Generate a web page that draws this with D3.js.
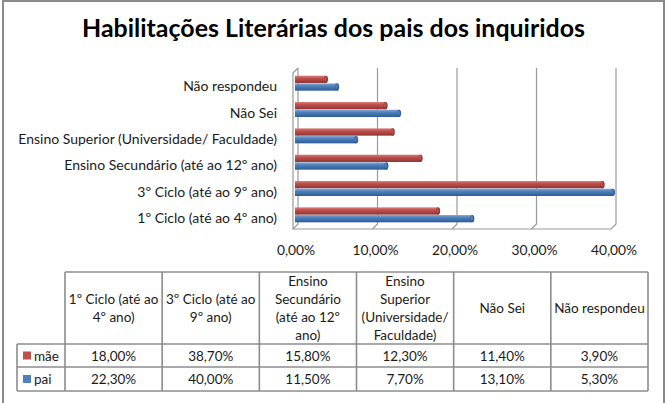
<!DOCTYPE html>
<html><head><meta charset="utf-8">
<script src="https://cdn.jsdelivr.net/npm/d3@7"></script>
<style>
html,body{margin:0;padding:0;background:#fff;}
svg{display:block;font-family:Lato,"Open Sans",sans-serif;}
</style></head>
<body>
<svg id="c" width="671" height="403"></svg>
<script>
const title = "Habilitações Literárias dos pais dos inquiridos";
const categories = ["1º Ciclo (até ao 4º ano)","3º Ciclo (até ao 9º ano)","Ensino Secundário (até ao 12º ano)","Ensino Superior (Universidade/ Faculdade)","Não Sei","Não respondeu"];
const tableHeaders = [["1º Ciclo (até ao","4º ano)"],["3º Ciclo (até ao","9º ano)"],["Ensino","Secundário","(até ao 12º","ano)"],["Ensino","Superior","(Universidade/","Faculdade)"],["Não Sei"],["Não respondeu"]];
const seriesNames = ["mãe","pai"];
const maeValues = [18.0,38.7,15.8,12.3,11.4,3.9];
const paiValues = [22.3,40.0,11.5,7.7,13.1,5.3];
const xTicks = [0,10,20,30,40];
const colors = {"mãe":"#C0504D","pai":"#4F81BD"};
const dark = {"mãe":"#8E3532","pai":"#2E5C93"};
const light = {"mãe":"#D9807D","pai":"#86A9D6"};

const series = [{name:"mãe",values:maeValues},{name:"pai",values:paiValues}];
const fmt = v => v.toFixed(2).replace(".",",")+"%";

const svg = d3.select("#c");
const defs = svg.append("defs");
seriesNames.forEach((n,i)=>{
  const g = defs.append("linearGradient").attr("id","g"+i).attr("x1",0).attr("x2",0).attr("y1",0).attr("y2",1);
  g.append("stop").attr("offset","0%").attr("stop-color",light[n]);
  g.append("stop").attr("offset","35%").attr("stop-color",colors[n]);
  g.append("stop").attr("offset","100%").attr("stop-color",dark[n]);
});

// outer frame
svg.append("rect").attr("x",3).attr("y",1).attr("width",661).attr("height",410)
  .attr("fill","none").attr("stroke","#8a8a8a").attr("stroke-width",2);

// title
svg.append("text").attr("x",333.5).attr("y",37).attr("text-anchor","middle")
  .attr("font-size",25).attr("font-weight","bold").attr("fill","#000")
  .attr("textLength",503).attr("lengthAdjust","spacingAndGlyphs").text(title);

// scales
const x = d3.scaleLinear().domain([0,40]).range([295,613]);
const y = d3.scaleBand().domain(categories.slice().reverse()).range([70,228]);
const ys = d3.scaleBand().domain(seriesNames).range([0,15]).paddingInner(0.05);
const depthX = 3;
const wallTop = 68, floorBack = 224, floorFront = 229;

// back wall gridlines + floor
const grid = svg.append("g").attr("stroke","#9a9a9a").attr("stroke-width",1.2).attr("fill","none");
xTicks.forEach(t=>{
  const xb = x(t)+depthX, xf = x(t)-2;
  grid.append("path").attr("d",`M${xb},${wallTop}L${xb},${floorBack}L${xf},${floorFront}`);
});
grid.append("path").attr("d",`M${x(0)-2},${wallTop+5}L${x(0)+depthX},${wallTop}`);
grid.append("path").attr("d",`M${x(0)-2},${wallTop+5}L${x(0)-2},${floorFront}L${x(40)-2},${floorFront}`);

// bars
const bars = svg.append("g");
series.forEach((s,si)=>{
  s.values.forEach((v,ci)=>{
    const yy = y(categories[ci]) + (y.bandwidth()-15)/2 + ys(s.name);
    const h = ys.bandwidth();
    const x0 = x(0), x1 = x(v);
    bars.append("rect").attr("x",x0).attr("y",yy).attr("width",x1-x0).attr("height",h)
      .attr("fill",`url(#g${si})`);
    bars.append("ellipse").attr("cx",x1).attr("cy",yy+h/2).attr("rx",2).attr("ry",h/2)
      .attr("fill",dark[s.name]);
    bars.append("ellipse").attr("cx",x1-0.5).attr("cy",yy+h/2-0.5).attr("rx",1.2).attr("ry",h/2-1.2)
      .attr("fill",colors[s.name]);
  });
});

// category labels
svg.append("g").selectAll("text").data(categories).join("text")
  .attr("x",277).attr("y",d=>y(d)+y.bandwidth()/2+8)
  .attr("text-anchor","end").attr("font-size",14).attr("fill","#1a1a1a").text(d=>d);

// x tick labels
svg.append("g").selectAll("text").data(xTicks).join("text")
  .attr("x",d=>x(d)+1).attr("y",255).attr("text-anchor","middle")
  .attr("font-size",13.8).attr("fill","#1a1a1a").text(d=>fmt(d));

// data table
const tLeft = 17, tCol0 = 65, tRight = 648;
const colX = d3.scaleBand().domain(d3.range(categories.length)).range([tCol0,tRight]);
const rowTop = 272, hdrBottom = 344, r1 = 367, r2 = 391;
const tg = svg.append("g");
const st = {stroke:"#8c8c8c","stroke-width":1.6};
function line(x1,y1,x2,y2){ const l=tg.append("line").attr("x1",x1).attr("y1",y1).attr("x2",x2).attr("y2",y2); for(const k in st) l.attr(k,st[k]); }
line(tCol0,rowTop,tRight,rowTop);
line(tLeft,hdrBottom,tRight,hdrBottom);
line(tLeft,r1,tRight,r1);
line(tLeft,r2,tRight,r2);
line(tLeft,hdrBottom,tLeft,r2);
d3.range(categories.length+1).forEach(i=>{
  const xx = i<categories.length ? colX(i) : tRight;
  line(xx,rowTop,xx,r2);
});
const lh = 18.3, hc = (rowTop+hdrBottom)/2;
tableHeaders.forEach((lines,i)=>{
  const cx = colX(i)+colX.bandwidth()/2;
  lines.forEach((ln,j)=>{
    tg.append("text").attr("x",cx).attr("y",hc+(j-(lines.length-1)/2)*lh+5)
      .attr("text-anchor","middle").attr("font-size",13.5).attr("fill","#1a1a1a").text(ln);
  });
});
const rowCenters = [(hdrBottom+r1)/2,(r1+r2)/2];
series.forEach((s,si)=>{
  const cy = rowCenters[si];
  tg.append("rect").attr("x",23).attr("y",cy-4).attr("width",8).attr("height",8).attr("fill",colors[s.name]);
  tg.append("text").attr("x",34).attr("y",cy+5).attr("font-size",13.5).attr("fill","#1a1a1a").text(s.name);
  s.values.forEach((v,ci)=>{
    tg.append("text").attr("x",colX(ci)+colX.bandwidth()/2).attr("y",cy+5)
      .attr("text-anchor","middle").attr("font-size",13.5).attr("fill","#1a1a1a").text(fmt(v));
  });
});
</script>
</body></html>
